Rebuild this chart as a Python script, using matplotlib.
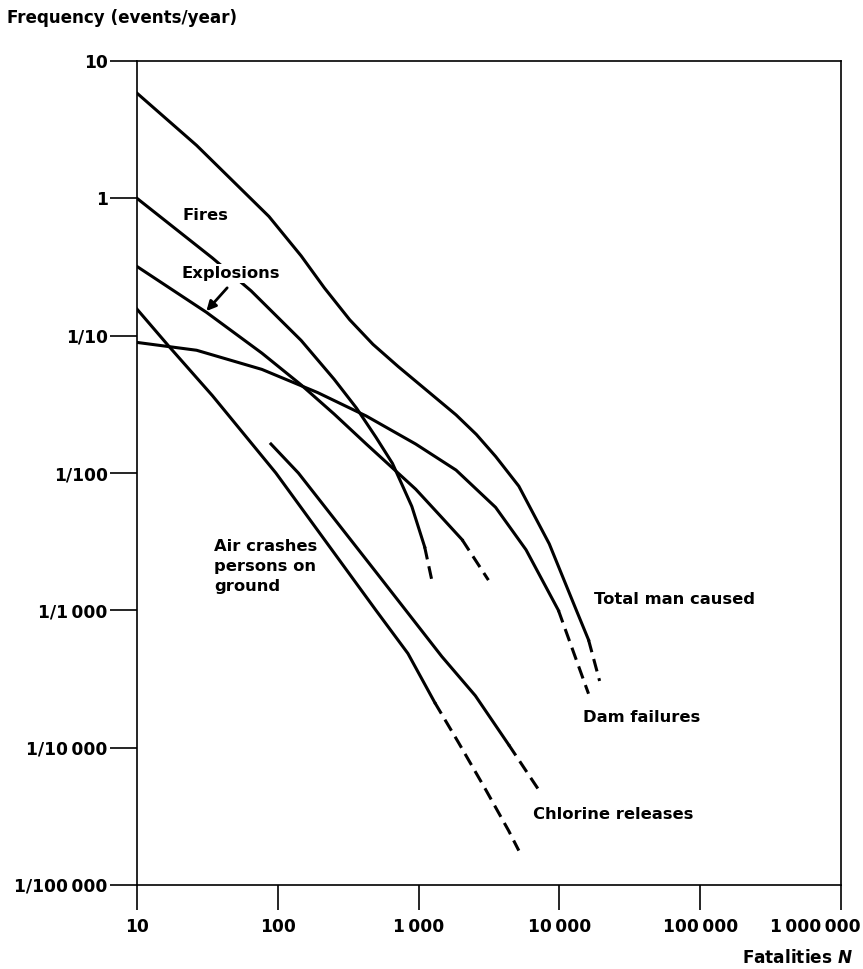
import matplotlib
matplotlib.use('Agg')
import matplotlib.pyplot as plt
import matplotlib.transforms as mtransforms

plt.rcParams['font.family'] = ['DejaVu Sans']
plt.rcParams['font.weight'] = 'bold'
plt.rcParams['mathtext.fontset'] = 'custom'
plt.rcParams['mathtext.rm'] = 'DejaVu Sans:bold'
plt.rcParams['mathtext.it'] = 'DejaVu Sans:italic:bold'

# Curves (fatalities N, frequency per year)
# solid part, then dashed (extrapolated) tail
total_n = [10, 26.5, 86.5, 146.5, 214, 324, 474, 716, 1242, 1845, 2570, 3524, 5150, 8470, 13200, 16100]
total_f = [5.83, 2.43, 0.738, 0.381, 0.223, 0.1306, 0.0865, 0.0596, 0.0372, 0.0265, 0.0191, 0.0132,
           0.00802, 0.00305, 0.001, 6.1e-4]
total_dash_n = [16100, 19300]
total_dash_f = [6.1e-4, 3.06e-4]

fires_n = [10, 34.3, 64.6, 146.5, 251, 362, 498, 652, 895, 1104]
fires_f = [1.0, 0.368, 0.212, 0.0923, 0.0482, 0.0297, 0.0182, 0.01175, 0.00571, 0.0029]
fires_dash_n = [1104, 1262]
fires_dash_f = [0.0029, 0.00153]

expl_n = [10, 31.1, 77.1, 146.5, 251, 425, 953, 1462, 2037]
expl_f = [0.319, 0.148, 0.0746, 0.0438, 0.0269, 0.01626, 0.00763, 0.00474, 0.00327]
expl_dash_n = [2037, 3133]
expl_dash_f = [0.00327, 0.00166]

dam_n = [10, 26.5, 77.1, 192, 425, 953, 1845, 3524, 5794, 9840]
dam_f = [0.0893, 0.0783, 0.0568, 0.0385, 0.026, 0.01626, 0.0105, 0.00562, 0.00276, 0.001]
dam_dash_n = [9840, 16100]
dam_dash_f = [0.001, 2.47e-4]

air_n = [10, 17.1, 34.3, 96.9, 498, 840, 1303]
air_f = [0.156, 0.0822, 0.0366, 0.01, 0.001, 4.85e-4, 2.13e-4]
air_dash_n = [1303, 1910, 2985, 4365, 5150]
air_dash_f = [2.13e-4, 1.10e-4, 4.98e-5, 2.48e-5, 1.78e-5]

chl_n = [89.4, 140, 498, 1462, 2529, 4365]
chl_f = [0.01626, 0.01, 0.0019, 4.61e-4, 2.39e-4, 1.05e-4]
chl_dash_n = [4365, 7063]
chl_dash_f = [1.05e-4, 5.0e-5]

x_ticks = [10, 100, 1000, 10000, 100000, 1000000]
x_labels = ['10', '100', '1\u2009000', '10\u2009000', '100\u2009000', '1\u2009000\u2009000']
y_ticks = [10, 1, 0.1, 0.01, 0.001, 0.0001, 0.00001]
y_labels = ['10', '1', '1/10', '1/100', '1/1\u2009000', '1/10\u2009000', '1/100\u2009000']

fig = plt.figure(figsize=(8.63, 9.69), dpi=100)
ax = fig.add_axes([137 / 863, 1 - 885 / 969, (841 - 137) / 863, (885 - 61) / 969])

lw = 2.2
dash = (0, (4.2, 2.3))
for n, f, dn, df in [(total_n, total_f, total_dash_n, total_dash_f),
                     (fires_n, fires_f, fires_dash_n, fires_dash_f),
                     (expl_n, expl_f, expl_dash_n, expl_dash_f),
                     (dam_n, dam_f, dam_dash_n, dam_dash_f),
                     (air_n, air_f, air_dash_n, air_dash_f),
                     (chl_n, chl_f, chl_dash_n, chl_dash_f)]:
    ax.plot(n, f, color='black', lw=lw, solid_joinstyle='round', zorder=2)
    ax.plot(dn, df, color='black', lw=lw, linestyle=dash, zorder=2)

ax.set_xscale('log')
ax.set_yscale('log')
ax.set_xlim(10, 1e6)
ax.set_ylim(1e-5, 10)
ax.minorticks_off()
ax.set_xticks(x_ticks)
ax.set_xticklabels(x_labels)
ax.set_yticks(y_ticks)
ax.set_yticklabels(y_labels)
ax.tick_params(axis='both', direction='out', width=1.2, labelsize=12.3)
ax.tick_params(axis='y', length=19.5, pad=1.5)
ax.tick_params(axis='x', length=18, pad=6)
for sp in ax.spines.values():
    sp.set_linewidth(1.2)

# last x label sits shifted left in the original
last = ax.get_xticklabels()[-1]
last.set_transform(last.get_transform() + mtransforms.ScaledTranslation(-26 / 100, 0, fig.dpi_scale_trans))

txt = dict(fontsize=11.8, fontweight='bold', color='black')
bg = dict(facecolor='white', edgecolor='none', pad=1.5)
ax.text(21.1, 0.751, 'Fires', ha='left', va='center', zorder=3, **txt)
ax.text(20.7, 0.282, 'Explosions', ha='left', va='center', zorder=3, bbox=bg, **txt)
ax.annotate('', xy=(31.1, 0.151), xytext=(43.7, 0.223),
            arrowprops=dict(arrowstyle='-|>', color='black', lw=2, mutation_scale=14, shrinkA=0, shrinkB=0))
ax.text(35.4, 0.00333, 'Air crashes\npersons on\nground', ha='left', va='top', linespacing=1.43, **txt)
ax.text(17500, 0.00119, 'Total man caused', ha='left', va='center', **txt)
ax.text(14800, 1.66e-4, 'Dam failures', ha='left', va='center', **txt)
ax.text(6500, 3.27e-5, 'Chlorine releases', ha='left', va='center', **txt)

fig.text(7 / 863, 1 - 18 / 969, 'Frequency (events/year)', ha='left', va='center',
         fontsize=12.1, fontweight='bold')
fig.text(853 / 863, 1 - 958 / 969, 'Fatalities $\\it{N}$', ha='right', va='center',
         fontsize=12.2, fontweight='bold')

fig.savefig('out.png', dpi=100, facecolor='white')
